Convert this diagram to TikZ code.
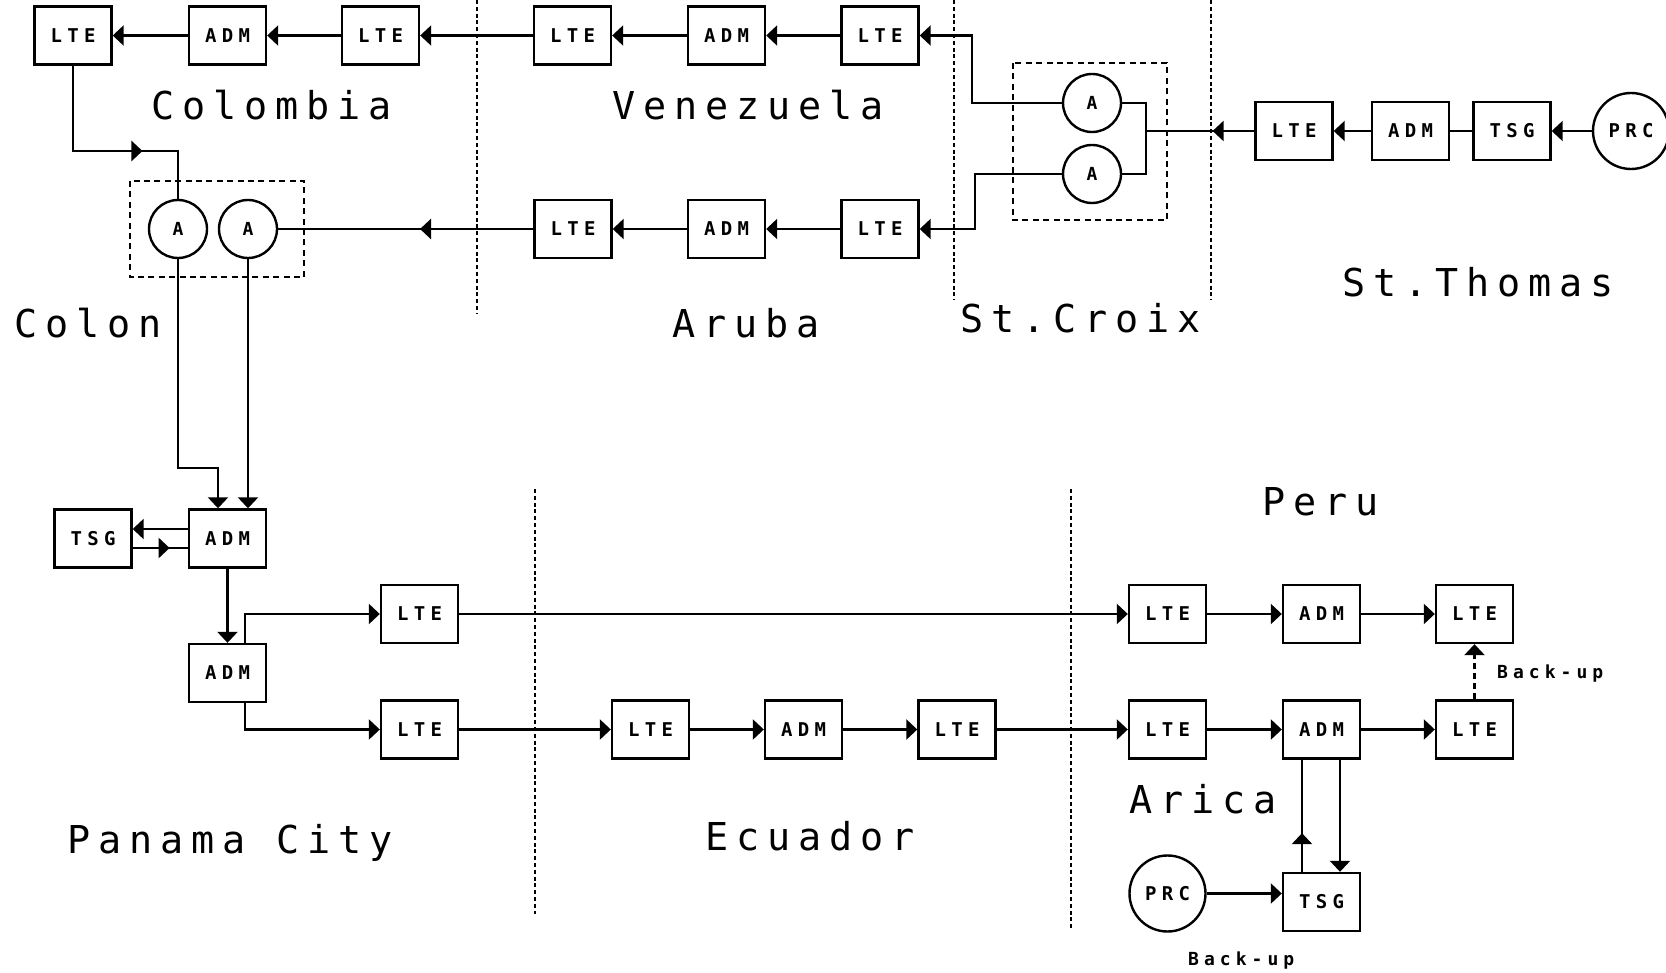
\documentclass[tikz,border=0pt]{standalone}
\usepackage{fontspec}
\usetikzlibrary{arrows.meta,decorations.markings,calc}
\newfontfamily\lblfont[LetterSpace=20.5]{DejaVu Sans Mono}
\newfontfamily\boxfont[LetterSpace=28]{DejaVu Sans Mono}
\begin{document}
\begin{tikzpicture}[x=0.5pt,y=-0.5pt,line width=1.2pt,
  box/.style={draw,line width=1.2pt,minimum width=38.5pt,minimum height=29pt,inner sep=0pt,
    font={\boxfont\bfseries\fontsize{9.5pt}{10pt}\selectfont}},
  circ/.style={draw,circle,line width=1.2pt,minimum size=29pt,inner sep=0pt,
    font={\boxfont\bfseries\fontsize{9pt}{10pt}\selectfont}},
  prc/.style={circ,minimum size=38pt,font={\boxfont\bfseries\fontsize{9.5pt}{10pt}\selectfont}},
  lbl/.style={anchor=base west,inner sep=0pt,font={\lblfont\fontsize{19.2pt}{20pt}\selectfont}},
  note/.style={anchor=base west,inner sep=0pt,font={\boxfont\bfseries\fontsize{9pt}{10pt}\selectfont}},
  arr/.style={-{Triangle[length=5.5pt,width=10pt]}},
  midarr/.style={postaction={decorate,decoration={markings,
    mark=at position #1 with {\arrow{Triangle[length=5.5pt,width=10pt]}}}}},
  grp/.style={draw,line width=0.9pt,dash pattern=on 3pt off 2.2pt},
  divider/.style={line width=0.9pt,dash pattern=on 2pt off 1.4pt},
  backup/.style={dash pattern=on 3pt off 2pt}
]
\useasboundingbox (0,0) rectangle (1666,973);

% group boxes and dividers
\draw[grp] (130,181) rectangle (304,277);
\draw[grp] (1013,63) rectangle (1167,220);
\draw[divider] (477,0) -- (477,313);
\draw[divider] (954,0) -- (954,300);
\draw[divider] (1211,0) -- (1211,300);
\draw[divider] (535,489) -- (535,914);
\draw[divider] (1071,489) -- (1071,930);

% top row
\node[box] (a1) at (73,35.5) {LTE};
\node[box] (a2) at (227.5,35.5) {ADM};
\node[box] (a3) at (380.5,35.5) {LTE};
\node[box] (b1) at (572.5,35.5) {LTE};
\node[box] (b2) at (726.5,35.5) {ADM};
\node[box] (b3) at (880,35.5) {LTE};
% Aruba row
\node[box] (c1) at (573,229) {LTE};
\node[box] (c2) at (726.5,229) {ADM};
\node[box] (c3) at (880,229) {LTE};
% Colon circles
\node[circ] (ca1) at (178,229) {A};
\node[circ] (ca2) at (248,229) {A};
% St.Croix circles
\node[circ] (sc1) at (1092,103) {A};
\node[circ] (sc2) at (1092,174) {A};
% St.Thomas
\node[box] (d1) at (1294,131) {LTE};
\node[box] (d2) at (1410.5,131) {ADM};
\node[box] (d3) at (1512,131) {TSG};
\node[prc] (p1) at (1631,131) {PRC};

% Panama City
\node[box] (e0) at (93,538.5) {TSG};
\node[box] (e1) at (227.5,538.5) {ADM};
\node[box] (e2) at (227.5,673) {ADM};
\node[box] (f1) at (419.5,614) {LTE};
\node[box] (f2) at (419.5,729.5) {LTE};
% Ecuador
\node[box] (h1) at (650.5,729.5) {LTE};
\node[box] (h2) at (803.5,729.5) {ADM};
\node[box] (h3) at (957,729.5) {LTE};
% Peru / Arica
\node[box] (g1) at (1167.5,614) {LTE};
\node[box] (g2) at (1321.5,614) {ADM};
\node[box] (g3) at (1474.5,614) {LTE};
\node[box] (i1) at (1167.5,729.5) {LTE};
\node[box] (i2) at (1321.5,729.5) {ADM};
\node[box] (i3) at (1474.5,729.5) {LTE};
\node[box] (j) at (1321.5,902) {TSG};
\node[prc] (p2) at (1167.5,893.5) {PRC};

% labels
\node[lbl] (l1) at (150,120) {Colombia};
\node[lbl] (l2) at (611,120) {Venezuela};
\node[lbl] (l3) at (671,337) {Aruba};
\node[lbl] (l4) at (959,333) {St.Croix};
\node[lbl] (l5) at (1341,297) {St.Thomas};
\node[lbl] (l6) at (13,337) {Colon};
\node[lbl] (l7) at (66,853) {Panama City};
\node[lbl] (l8) at (704,850) {Ecuador};
\node[lbl] (l9) at (1261,515) {Peru};
\node[lbl] (l10) at (1128,813) {Arica};
\node[note] (n1) at (1496,678) {Back-up};
\node[note] (n2) at (1187,965) {Back-up};

% coordinates
\coordinate (k1) at (972,35.5);
\coordinate (k2) at (178,151);
\coordinate (k4) at (975,229);
\coordinate (k5) at (218,468);
\coordinate (j1) at (1146,131);

% top connectors
\draw[arr] (sc1.west) -| (k1) -- (b3.east);
\draw[arr] (b3) -- (b2);
\draw[arr] (b2) -- (b1);
\draw[arr] (b1) -- (a3);
\draw[arr] (a3) -- (a2);
\draw[arr] (a2) -- (a1);
\draw[midarr=0.65] (a1.south) |- (k2) -- (ca1.north);
\draw[arr] (sc2.west) -| (k4) -- (c3.east);
\draw[arr] (c3) -- (c2);
\draw[arr] (c2) -- (c1);
\draw[midarr=0.444] (c1.west) -- (ca2.east);
\draw[midarr=0.385] (d1.west) -- (j1);
\draw (j1) |- (sc1.east);
\draw (j1) |- (sc2.east);
\draw[arr] (d2) -- (d1);
\draw (d3) -- (d2);
\draw[arr] (p1) -- (d3);

% Colon to Panama
\draw[arr] (ca1.south) |- (k5) -- (k5 |- e1.north);
\draw[arr] (ca2.south) -- (ca2.south |- e1.north);
\draw[arr] ([yshift=4.75pt]e1.west) -- ([yshift=4.75pt]e0.east);
\draw[midarr=0.67] ([yshift=-4.75pt]e0.east) -- ([yshift=-4.75pt]e1.west);
\draw[arr] (e1) -- (e2);
\draw[arr] ([xshift=8.75pt]e2.north) |- (f1.west);
\draw[arr] ([xshift=8.75pt]e2.south) |- (f2.west);

% lower rows
\draw[arr] (f1) -- (g1);
\draw[arr] (g1) -- (g2);
\draw[arr] (g2) -- (g3);
\draw[arr] (f2) -- (h1);
\draw[arr] (h1) -- (h2);
\draw[arr] (h2) -- (h3);
\draw[arr] (h3) -- (i1);
\draw[arr] (i1) -- (i2);
\draw[arr] (i2) -- (i3);
\draw[arr,backup] (i3.north) -- (g3.south);
\draw[midarr=0.345] ([xshift=-9.75pt]j.north) -- ([xshift=-9.75pt]i2.south);
\draw[arr] ([xshift=9.25pt]i2.south) -- ([xshift=9.25pt]j.north);
\draw[arr] (p2.east) -- (p2.east -| j.west);
\end{tikzpicture}
\end{document}
